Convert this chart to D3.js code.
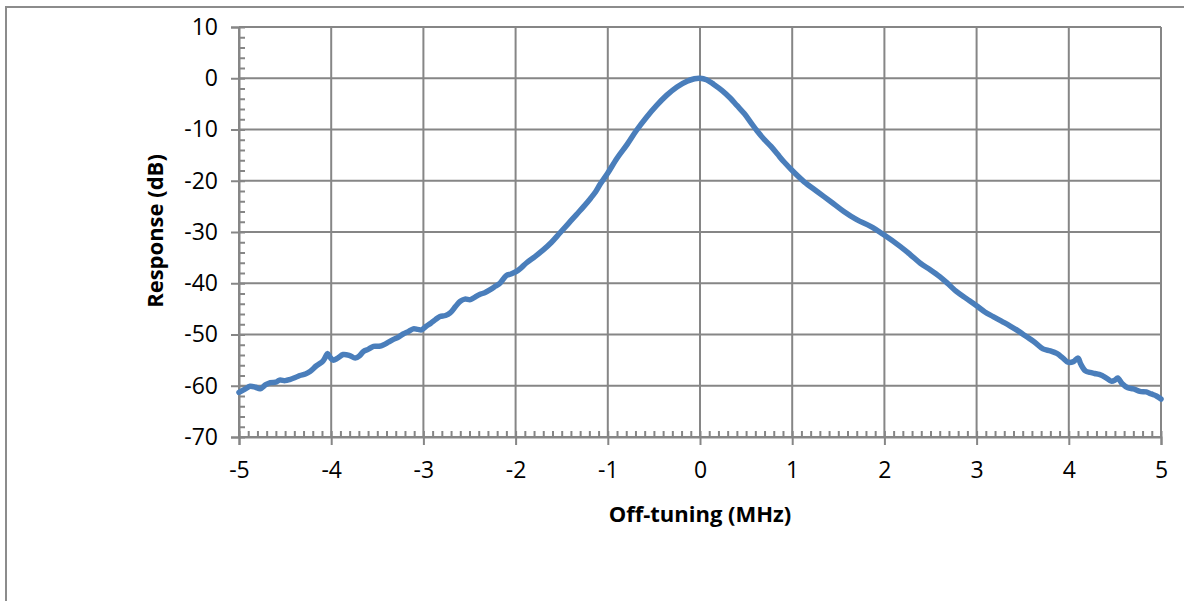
<!DOCTYPE html>
<html>
<head>
<meta charset="utf-8">
<script src="https://cdn.jsdelivr.net/npm/d3@7"></script>
<style>
  body { margin: 0; background: #fff; }
  svg { display: block; font-family: "Open Sans", "Noto Sans", sans-serif; }
</style>
</head>
<body>
<svg width="1184" height="601"></svg>
<script>
// off-tuning (MHz) and response (dB)
var freq = [-5.0, -4.94, -4.88, -4.82, -4.77, -4.71, -4.66, -4.6, -4.56, -4.5, -4.45, -4.39, -4.34, -4.28, -4.23, -4.16,
  -4.09, -4.06, -4.04, -4.01, -3.98, -3.93, -3.87, -3.8, -3.74, -3.69, -3.65, -3.6, -3.54, -3.48, -3.43, -3.38, -3.33,
  -3.27, -3.22, -3.16, -3.11, -3.06, -3.02, -2.97, -2.92, -2.87, -2.82, -2.76, -2.71, -2.65, -2.6, -2.55, -2.49, -2.44,
  -2.39, -2.33, -2.28, -2.22, -2.17, -2.1, -2.05, -1.99, -1.94, -1.88, -1.79, -1.7, -1.61, -1.52, -1.43, -1.34, -1.26,
  -1.19, -1.13, -1.08, -1.0, -0.9, -0.79, -0.69, -0.58, -0.47, -0.36, -0.25, -0.14, -0.06, 0.0, 0.07, 0.15, 0.24, 0.33,
  0.4, 0.48, 0.55, 0.62, 0.69, 0.77, 0.84, 0.91, 1.0, 1.13, 1.27, 1.42, 1.56, 1.7, 1.85, 1.99, 2.17, 2.28, 2.39, 2.5, 2.6, 2.69, 2.78, 2.89,
  3.0, 3.09, 3.18, 3.27, 3.36, 3.45, 3.54, 3.63, 3.72, 3.8, 3.87, 3.93, 3.99, 4.05, 4.1, 4.13, 4.18, 4.23, 4.28, 4.33,
  4.4, 4.46, 4.5, 4.53, 4.58, 4.64, 4.7, 4.77, 4.84, 4.88, 4.91, 4.95, 5.0];
var resp = [-61.3, -60.7, -60.1, -60.3, -60.6, -59.8, -59.4, -59.3, -58.9, -59.0, -58.8, -58.4, -58.0, -57.7, -57.2, -56.1,
  -55.2, -54.3, -53.7, -54.5, -55.0, -54.6, -53.9, -54.1, -54.6, -54.1, -53.3, -52.9, -52.3, -52.3, -52.0, -51.5, -51.0,
  -50.5, -49.9, -49.4, -48.9, -49.0, -49.1, -48.4, -47.8, -47.1, -46.5, -46.3, -45.8, -44.5, -43.5, -43.1, -43.2, -42.7,
  -42.2, -41.8, -41.3, -40.6, -40.0, -38.5, -38.2, -37.7, -37.0, -36.0, -34.8, -33.5, -32.0, -30.2, -28.4, -26.6, -25.0,
  -23.5, -22.1, -20.6, -18.5, -15.6, -12.9, -10.2, -7.6, -5.3, -3.3, -1.7, -0.6, -0.1, 0.0, -0.3, -1.2, -2.4, -3.9,
  -5.3, -6.9, -8.6, -10.3, -11.8, -13.3, -14.8, -16.3, -18.0, -20.2, -22.1, -24.1, -26.0, -27.6, -28.9, -30.5, -32.8, -34.4, -36.1, -37.4, -38.7,
  -40.1, -41.6, -43.0, -44.4, -45.6, -46.5, -47.4, -48.3, -49.3, -50.4, -51.5, -52.8, -53.2, -53.7, -54.5, -55.4, -55.3,
  -54.6, -55.8, -57.1, -57.4, -57.6, -57.8, -58.4, -59.1, -58.9, -58.5, -59.6, -60.4, -60.6, -61.1, -61.2, -61.5, -61.7,
  -62.0, -62.6];

var xTicks = [-5, -4, -3, -2, -1, 0, 1, 2, 3, 4, 5];
var yTicks = [-70, -60, -50, -40, -30, -20, -10, 0, 10];

var svg = d3.select("svg");
var gridColor = "#868686";

// outer chart frame (cut off at right and bottom)
svg.append("path")
  .attr("d", "M6,601 V7 H1184")
  .attr("fill", "none")
  .attr("stroke", "#8c8c8c")
  .attr("stroke-width", 2);

var x = d3.scaleLinear().domain([-5, 5]).range([239, 1161]);
var y = d3.scaleLinear().domain([-70, 10]).range([437, 27]);

// gridlines
svg.append("g").selectAll("line").data(xTicks).enter().append("line")
  .attr("x1", d => x(d)).attr("x2", d => x(d))
  .attr("y1", y(10)).attr("y2", y(-70))
  .attr("stroke", gridColor).attr("stroke-width", 2);
svg.append("g").selectAll("line").data(yTicks).enter().append("line")
  .attr("x1", x(-5)).attr("x2", x(5))
  .attr("y1", d => y(d)).attr("y2", d => y(d))
  .attr("stroke", gridColor).attr("stroke-width", 2);

// minor ticks (inside)
svg.append("g").attr("transform", "translate(" + x(-5) + ",0)")
  .call(d3.axisRight(y).tickValues(d3.range(-70, 10.1, 2)).tickSize(6).tickFormat(""))
  .call(g => g.select(".domain").remove())
  .selectAll("line").attr("stroke", gridColor).attr("stroke-width", 2);
svg.append("g").attr("transform", "translate(0," + y(-70) + ")")
  .call(d3.axisTop(x).tickValues(d3.range(-50, 51).map(d => d / 10)).tickSize(6).tickFormat(""))
  .call(g => g.select(".domain").remove())
  .selectAll("line").attr("stroke", gridColor).attr("stroke-width", 2);

// major axes
var fmt = d => String(d);
var yAxis = svg.append("g").attr("transform", "translate(" + x(-5) + ",0)")
  .call(d3.axisLeft(y).tickValues(yTicks).tickSize(8).tickPadding(13).tickFormat(fmt));
var xAxis = svg.append("g").attr("transform", "translate(0," + y(-70) + ")")
  .call(d3.axisBottom(x).tickValues(xTicks).tickSize(8).tickPadding(17).tickFormat(fmt));
[yAxis, xAxis].forEach(function(a) {
  a.select(".domain").attr("stroke", gridColor).attr("stroke-width", 2);
  a.selectAll("line").attr("stroke", gridColor).attr("stroke-width", 2);
  a.selectAll("text").attr("font-size", 23).attr("fill", "#000")
    .attr("font-family", "'Open Sans', sans-serif");
});

// the curve
var line = d3.line().x((d, i) => x(freq[i])).y(d => y(d)).curve(d3.curveCatmullRom.alpha(0.5));
svg.append("path")
  .datum(resp)
  .attr("d", line)
  .attr("fill", "none")
  .attr("stroke", "#4a7ebb")
  .attr("stroke-width", 5.5)
  .attr("stroke-linejoin", "round")
  .attr("stroke-linecap", "round");

// axis titles
svg.append("text")
  .attr("x", 700).attr("y", 522)
  .attr("text-anchor", "middle")
  .attr("font-size", 22).attr("font-weight", "bold")
  .text("Off-tuning (MHz)");
svg.append("text")
  .attr("transform", "translate(163,231) rotate(-90)")
  .attr("text-anchor", "middle")
  .attr("font-size", 22).attr("font-weight", "bold")
  .text("Response (dB)");
</script>
</body>
</html>
